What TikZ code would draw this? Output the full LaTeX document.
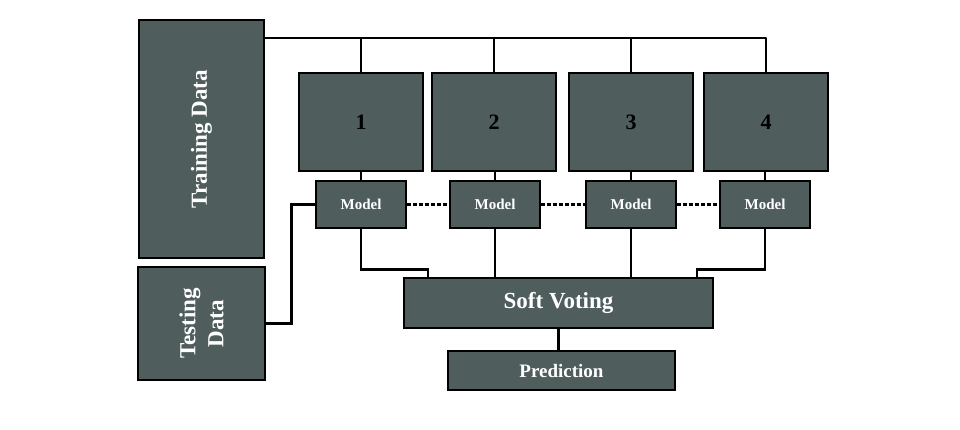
\documentclass[tikz,border=0pt]{standalone}
\usepackage{fontspec}
\setmainfont{Liberation Serif}
\usepackage{tikz}

\definecolor{boxgrey}{RGB}{79,93,93}

\begin{document}
\begin{tikzpicture}[x=1pt, y=-1pt, line width=2.6pt]
\tikzstyle{every node} = [draw=black, fill=boxgrey, inner sep=0pt, font=\bfseries]
\tikzstyle{databox} = [text=white, font=\bfseries\fontsize{23}{28}\selectfont, rotate=90, align=center]
\tikzstyle{numbox} = [minimum width=124pt, minimum height=98pt, font=\bfseries\fontsize{22}{24}\selectfont]
\tikzstyle{modelbox} = [minimum width=90pt, minimum height=47pt, text=white, font=\bfseries\fontsize{15}{17}\selectfont]
\useasboundingbox (0,0) rectangle (960,429);

\node[databox, minimum width=238pt, minimum height=125pt] (train) at (201.5, 139) {Training Data};
\node[databox, minimum width=113pt, minimum height=127pt] (test) at (201.5, 323.5) {Testing\\Data};

\node[numbox] (b1) at (361, 122) {1};
\node[numbox] (b2) at (494, 122) {2};
\node[numbox] (b3) at (631, 122) {3};
\node[numbox] (b4) at (766, 122) {4};

\node[modelbox] (m1) at (361, 204.5) {Model};
\node[modelbox] (m2) at (495, 204.5) {Model};
\node[modelbox] (m3) at (631, 204.5) {Model};
\node[modelbox] (m4) at (765, 204.5) {Model};

\node[minimum width=309pt, minimum height=50pt, text=white, font=\bfseries\fontsize{23}{25}\selectfont] (vote) at (558.5, 303) {Soft Voting};
\node[minimum width=227pt, minimum height=39pt, text=white, font=\bfseries\fontsize{19}{21}\selectfont] (pred) at (561.5, 370.5) {Prediction};

\coordinate (top) at (766, 38);

\draw[line join=round] (train.south |- top) -- (top) -- (b4.north);
\foreach \n in {1,2,3}
\draw (b\n.north) -- (b\n.north |- top);
\foreach \n in {1,2,3,4}
\draw (m\n.north) -- (m\n.north |- b\n.south);

\draw [dash pattern=on 4pt off 2pt] (m1.east) -- (m2.west);
\draw [dash pattern=on 4pt off 2pt] (m2.east) -- (m3.west);
\draw [dash pattern=on 4pt off 2pt] (m3.east) -- (m4.west);

\draw (test.south) -- ++(25,0) |- (m1.west);

\draw (m1.south) -- ++(0,40) -| ([xshift=-130.5pt]vote.north);
\draw (m2.south) -- (m2.south |- vote.north);
\draw (m3.south) -- (m3.south |- vote.north);
\draw (m4.south) -- ++(0,40) -| ([xshift=138.5pt]vote.north);

\draw (vote.south) -- (vote.south |- pred.north);
\end{tikzpicture}
\end{document}
